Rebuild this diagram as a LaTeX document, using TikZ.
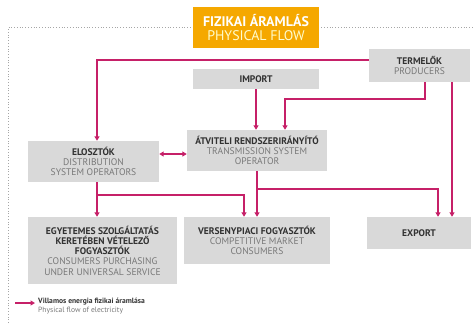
\documentclass[tikz,border=0pt]{standalone}
\usepackage{fontspec}
\setmainfont{PT Sans}
\usetikzlibrary{arrows.meta}

\definecolor{flow}{RGB}{198,32,104}
\definecolor{boxgrey}{RGB}{217,217,217}
\definecolor{titleorange}{RGB}{245,168,0}
\definecolor{darktext}{RGB}{50,50,50}
\definecolor{lighttext}{RGB}{120,120,120}

% hungarian (bold) and english (grey) lines
\newcommand{\hu}[1]{{\bfseries\color{darktext}#1}}
\newcommand{\en}[1]{{\color{lighttext}#1}}

\begin{document}
\begin{tikzpicture}[x=1bp,y=-1bp,
		box/.style={fill=boxgrey, inner sep=0pt, align=center, font=\fontsize{9.6}{10.3}\selectfont},
		flowline/.style={draw=flow, line width=1.6bp, -{Triangle[length=4.5bp,width=5bp]}},
		frame/.style={draw=black!35, line width=0.8bp, dotted}]
	\useasboundingbox (0,0) rectangle (474,323);

	% dotted frame
	\draw[frame] (8,323) -- (8,27.5) -- (474,27.5);

	% title
	\node[fill=titleorange, minimum width=126bp, minimum height=41bp, inner sep=0pt, align=center,
		font=\fontsize{14}{14.5}\selectfont] (title) at (256,27.5)
		{\textbf{\color{white}FIZIKAI ÁRAMLÁS}\\{\color{yellow!20}PHYSICAL FLOW}};

	% boxes
	\node[box, minimum width=101bp, minimum height=33bp] (prod) at (419.5,65.5)
		{\hu{TERMELŐK}\\\en{PRODUCERS}};
	\node[box, minimum width=126bp, minimum height=20bp] (imp) at (256,79)
		{\hu{IMPORT}};
	\node[box, minimum width=140bp, minimum height=41bp] (tso) at (257,150.5)
		{\hu{ÁTVITELI RENDSZERIRÁNYÍTÓ}\\\en{TRANSMISSION SYSTEM}\\\en{OPERATOR}};
	\node[box, minimum width=131bp, minimum height=41bp] (dso) at (93.5,161.5)
		{\hu{ELOSZTÓK}\\\en{DISTRIBUTION}\\\en{SYSTEM OPERATORS}};
	\node[box, minimum width=149bp, minimum height=67bp] (univ) at (102.5,250.5)
		{\hu{EGYETEMES SZOLGÁLTATÁS}\\\hu{KERETÉBEN VÉTELEZŐ}\\\hu{FOGYASZTÓK}\\
		\en{CONSUMERS PURCHASING}\\\en{UNDER UNIVERSAL SERVICE}};
	\node[box, minimum width=146bp, minimum height=47bp] (comp) at (257,240.5)
		{\hu{VERSENYPIACI FOGYASZTÓK}\\\en{COMPETITIVE MARKET}\\\en{CONSUMERS}};
	\node[box, minimum width=104bp, minimum height=32bp] (export) at (419,233)
		{\hu{EXPORT}};

	% producers
	\draw[flowline] ([yshift=5.5bp]prod.west) -| ([xshift=3.5bp]dso.north);
	\draw[flowline] ([xshift=5.5bp]prod.south) -- ++(0,17) -| ([xshift=28bp]tso.north);
	\draw[flowline] ([xshift=32.5bp]prod.south) -- ([xshift=32.5bp]prod.south |- export.north);
	% import
	\draw[flowline] (imp.south) -- (imp.south |- tso.north);
	% transmission
	\draw[flowline] (tso.south) -- (comp.north);
	\draw[flowline] (tso.south) -- ++(0,18) -| ([xshift=19bp]export.north);
	% distribution
	\draw[flowline] ([xshift=3.5bp]dso.south) -- ([xshift=3.5bp]dso.south |- univ.north);
	\draw[flowline] ([xshift=3.5bp]dso.south) -- ++(0,13) -| ([xshift=-13bp]comp.north);
	\draw[flowline, {Triangle[length=4.5bp,width=5bp]}-{Triangle[length=4.5bp,width=5bp]}]
		([yshift=7.5bp]dso.east) -- ([yshift=7.5bp]dso.east -| tso.west);

	% legend
	\node[anchor=west, align=left, inner sep=0pt, font=\fontsize{7.6}{9}\selectfont] (legend) at (38,306.5)
		{\hu{Villamos energia fizikai áramlása}\\\en{Physical flow of electricity}};
	\draw[flowline] ([xshift=-23bp,yshift=3.5bp]legend.west) -- ([xshift=-3bp,yshift=3.5bp]legend.west);
\end{tikzpicture}
\end{document}
